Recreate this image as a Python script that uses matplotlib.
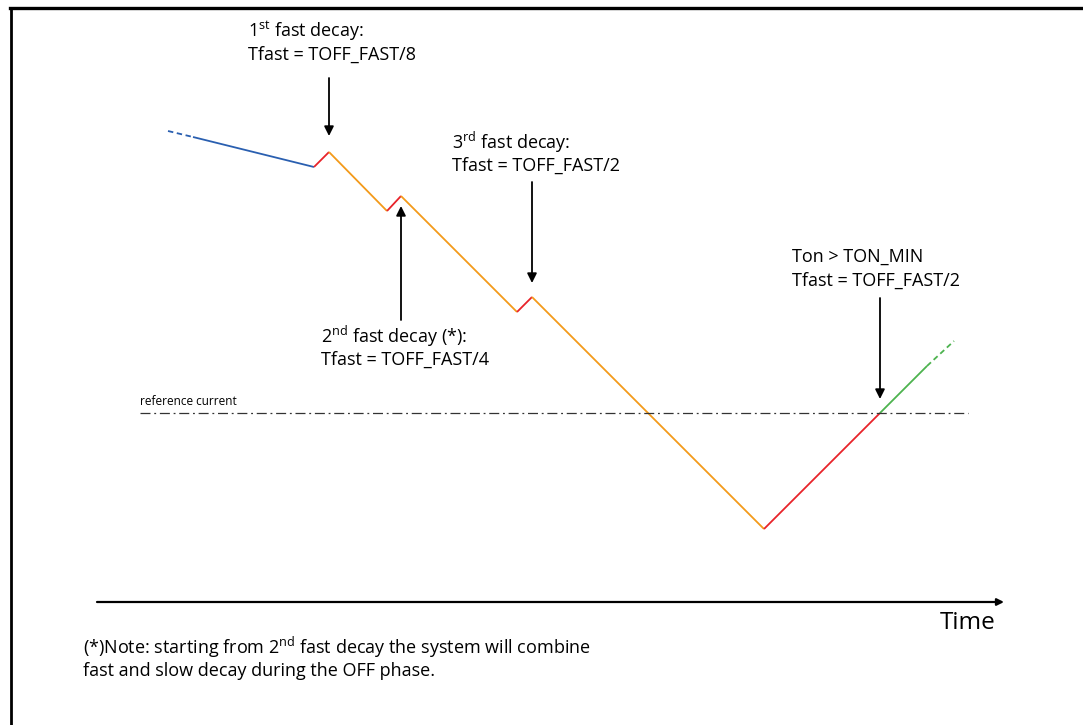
import matplotlib
matplotlib.use("Agg")
import matplotlib.pyplot as plt
from matplotlib.lines import Line2D

plt.rcParams['font.family'] = ['Open Sans', 'DejaVu Sans']
plt.rcParams['mathtext.default'] = 'regular'

# ---- data (time, current level; screen-like units, larger = lower current) ----
wave_time = [168, 193, 314, 329, 387, 401, 517, 532, 764, 880, 927, 954]
wave_level = [131, 137, 167, 152, 211, 196, 312, 297, 529, 413, 366, 341]
# phase of each segment between consecutive points
seg_phase = ['slow_dash', 'slow', 'fast', 'mixed', 'fast', 'mixed', 'fast',
             'mixed', 'on', 'on_green', 'on_green_dash']
reference_level = 413
reference_span = [140, 968]

phase_color = {'slow_dash': '#2a5fb0', 'slow': '#2a5fb0', 'fast': '#e8232a',
               'mixed': '#f39a1a', 'on': '#e8232a', 'on_green': '#4db34f',
               'on_green_dash': '#4db34f'}

annotations = [
    # text lines, text x, text top-line y, arrow x, arrow start y, arrow end y
    (["1$^{st}$ fast decay:", "Tfast = TOFF_FAST/8"], 248, 31, 329, 78, 136),
    (["3$^{rd}$ fast decay:", "Tfast = TOFF_FAST/2"], 452, 142, 532, 182, 283),
    (["2$^{nd}$ fast decay (*):", "Tfast = TOFF_FAST/4"], 321, 336, 401, 320, 206),
    (["Ton > TON_MIN", "Tfast = TOFF_FAST/2"], 792, 257, 880, 298, 399),
]
note_lines = ["(*)Note: starting from 2$^{nd}$ fast decay the system will combine",
              "fast and slow decay during the OFF phase."]

fig = plt.figure(figsize=(10.83, 7.25), dpi=100)
ax = fig.add_axes([0, 0, 1, 1])
ax.set_xlim(0, 1083)
ax.set_ylim(725, 0)
ax.axis('off')

# frame
fig.add_artist(Line2D([11 / 1083, 11 / 1083], [0, 1 - 8 / 725], color='black', lw=2.0,
                      transform=fig.transFigure))
fig.add_artist(Line2D([10 / 1083, 1], [1 - 8 / 725, 1 - 8 / 725], color='black', lw=2.4,
                      transform=fig.transFigure))

# waveform
for k, ph in enumerate(seg_phase):
    ls = (0, (3, 2)) if ph.endswith('dash') else '-'
    ax.plot(wave_time[k:k + 2], wave_level[k:k + 2], color=phase_color[ph], lw=1.3,
            ls=ls, solid_capstyle='butt')

# reference current
ax.plot(reference_span, [reference_level, reference_level], color='#333333', lw=0.9,
        ls=(0, (8, 3, 1.5, 3)))
ax.text(reference_span[0], reference_level - 5, "reference current", fontsize=8.5,
        ha='left', va='bottom')

# annotations
for lines, tx, ty, axx, y0, y1 in annotations:
    for j, s in enumerate(lines):
        ax.text(tx, ty + 24 * j, s, fontsize=13, ha='left', va='center')
    ax.annotate('', xy=(axx, y1), xytext=(axx, y0),
                arrowprops=dict(arrowstyle='-|>', color='black', lw=1.3,
                                mutation_scale=14, shrinkA=0, shrinkB=0))

# time axis
ax.annotate('', xy=(1004, 602), xytext=(97, 602),
            arrowprops=dict(arrowstyle='-|>', color='black', lw=1.6,
                            mutation_scale=10, shrinkA=0, shrinkB=0))
ax.text(995, 623, "Time", fontsize=17.5, ha='right', va='center')

for j, s in enumerate(note_lines):
    ax.text(83, 647 + 24 * j, s, fontsize=13, ha='left', va='center')

fig.savefig("out.png", dpi=100)
